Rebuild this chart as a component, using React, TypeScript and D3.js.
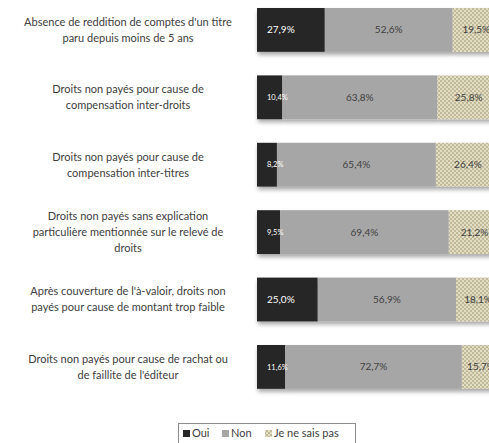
import React from "react";
import * as d3 from "d3";

// category labels, already wrapped as in the original
const categories = [
  ["Absence de reddition de comptes d'un titre", "paru depuis moins de 5 ans"],
  ["Droits non payés pour cause de", "compensation inter-droits"],
  ["Droits non payés pour cause de", "compensation inter-titres"],
  ["Droits non payés sans explication", "particulière mentionnée sur le relevé de", "droits"],
  ["Après couverture de l'à-valoir, droits non", "payés pour cause de montant trop faible"],
  ["Droits non payés pour cause de rachat ou", "de faillite de l'éditeur"],
];
const oui = [27.9, 10.4, 8.2, 9.5, 25.0, 11.6];
const non = [52.6, 63.8, 65.4, 69.4, 56.9, 72.7];
const nsp = [19.5, 25.8, 26.4, 21.2, 18.1, 15.7];
const seriesNames = ["Oui", "Non", "Je ne sais pas"];

const W = 489;
const H = 443;
const font = "Lato, 'Open Sans', sans-serif";

export default function App() {
  const ids = categories.map((_, i) => "c" + i);
  const y = d3.scaleBand().domain(ids).range([-3.8, 400.6]).paddingInner(0.35).paddingOuter(0.175);
  const x = d3.scaleLinear().domain([0, 100]).range([257, 500]);
  const fmt = (v: number) => d3.format(".1f")(v).replace(".", ",") + "%";

  const rows = ids.map((id, i) => {
    const vals = [oui[i], non[i], nsp[i]];
    let acc = 0;
    const segs = vals.map((v, k) => {
      const s = { k, v, x0: x(acc), x1: x(acc + v) };
      acc += v;
      return s;
    });
    return { id, i, segs };
  });

  const fills = ["#262626", "#a6a6a6", "url(#chk)"];

  return (
    <svg width={W} height={H} style={{ position: "fixed", left: 0, top: 0 }} fontFamily={font}>
      <defs>
        <pattern id="chk" width={4} height={4} patternUnits="userSpaceOnUse">
          <rect width={4} height={4} fill="#e2ddc3" />
          <rect width={2} height={2} fill="#c0b99a" />
          <rect x={2} y={2} width={2} height={2} fill="#c0b99a" />
        </pattern>
        <filter id="sh" x="-5%" y="-20%" width="115%" height="160%">
          <feDropShadow dx={1} dy={3} stdDeviation={2} floodColor="#000" floodOpacity={0.35} />
        </filter>
      </defs>
      <rect width={W} height={H} fill="#fff" />
      {rows.map(r => {
        const y0 = y(r.id)!;
        const bh = y.bandwidth();
        const cy = y0 + bh / 2;
        const lines = categories[r.i];
        const lh = 16;
        return (
          <g key={r.id}>
            {lines.map((ln, j) => (
              <text key={j} x={128} y={cy + (j - (lines.length - 1) / 2) * lh} dy="0.35em"
                textAnchor="middle" fontSize={11} fill="#404040">{ln}</text>
            ))}
            <g filter="url(#sh)">
              {r.segs.map(s => (
                <rect key={s.k} x={s.x0} y={y0} width={s.x1 - s.x0} height={bh} fill={fills[s.k]} />
              ))}
            </g>
            {r.segs.map(s => {
              const small = s.k === 0 && s.v < 15;
              const tx = s.k === 0 ? s.x0 + 10 : (s.x0 + s.x1) / 2;
              return (
                <text key={"t" + s.k} x={tx} y={cy} dy="0.35em" textAnchor={s.k === 0 ? "start" : "middle"}
                  fontSize={small ? 7.5 : 10} fill={s.k === 0 ? "#fff" : "#404040"}>{fmt(s.v)}</text>
              );
            })}
          </g>
        );
      })}
      <g>
        <rect x={178.5} y={423.5} width={177} height={24} fill="#fff" stroke="#8c8c8c" />
        {seriesNames.map((n, k) => {
          const lx = [183, 222, 265][k];
          return (
            <g key={n}>
              <rect x={lx} y={430} width={7} height={7} fill={fills[k]} />
              <text x={lx + 9} y={433.5} dy="0.35em" fontSize={11} fill="#404040">{n}</text>
            </g>
          );
        })}
      </g>
    </svg>
  );
}
